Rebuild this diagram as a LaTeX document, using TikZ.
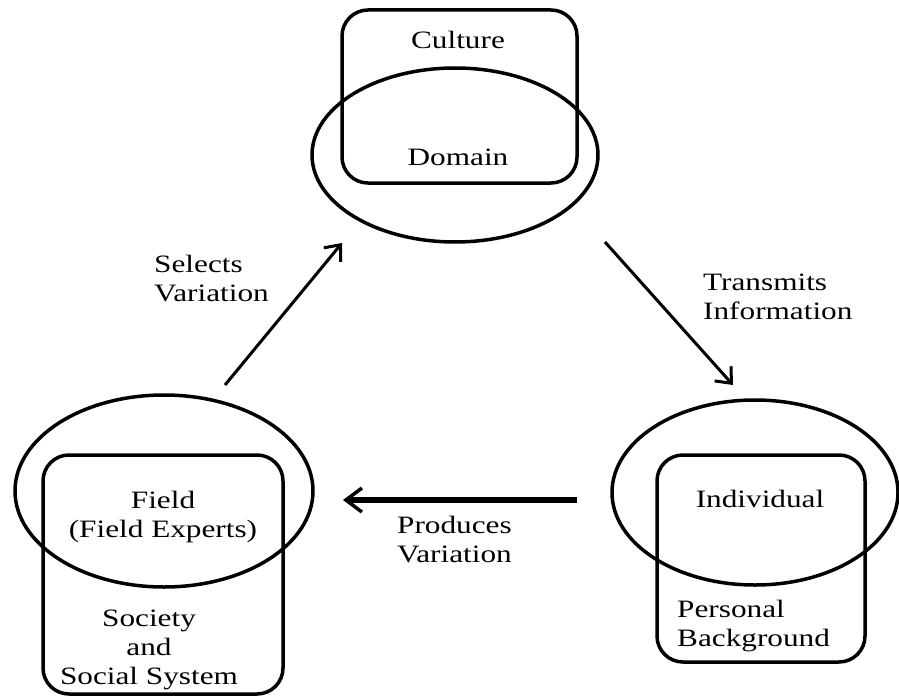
\documentclass[tikz,border=0pt]{standalone}
\usepackage{fontspec}
\setmainfont[FakeStretch=1.25]{Liberation Serif}
\usepackage{tikz}
\usetikzlibrary{shapes.geometric, arrows.meta}

\begin{document}
\begin{tikzpicture}[
    x=1pt, y=-1pt,
    font=\fontsize{25}{29}\selectfont,
    ring/.style={ellipse, draw, line width=3.5pt, inner sep=0pt},
    frame/.style={rectangle, draw, line width=3.5pt, rounded corners=26pt, inner sep=0pt},
    label/.style={inner sep=0pt, align=center},
    leftlabel/.style={inner sep=0pt, align=left, anchor=west},
    flow/.style={line width=3pt, -{Straight Barb[length=13pt, width=22pt, line width=3pt]}},
    bigflow/.style={line width=6.5pt, -{Straight Barb[length=16pt, width=24pt, line width=3.5pt]}}
]

    \useasboundingbox (0,0) rectangle (899,698);

    % --- 1. Domain (top) ---
    \node[frame, minimum width=235pt, minimum height=173pt] (culture) at (459.5,96.5) {};
    \node[ring, minimum width=286pt, minimum height=174pt] (domain) at (455,155) {};
    \node[label] (culture_txt) at (458,40) {Culture};
    \node[label] (domain_txt) at (458,157) {Domain};

    % --- 2. Field (left) ---
    \node[frame, minimum width=240pt, minimum height=239pt] (society) at (163,574.5) {};
    \node[ring, minimum width=298pt, minimum height=192pt] (field) at (164,491) {};
    \node[label] (field_txt) at (163,517) {Field\\(Field Experts)};
    \node[label] (society_txt) at (149,650) {Society\\and\\Social System};

    % --- 3. Individual (right) ---
    \node[frame, minimum width=208pt, minimum height=207pt] (background) at (761,558.5) {};
    \node[ring, minimum width=286pt, minimum height=185pt] (individual) at (755,492.5) {};
    \node[label] (individual_txt) at (760,499) {Individual};
    \node[leftlabel] (background_txt) at (677,626) {Personal\\Background};

    % --- 4. Connections ---
    \coordinate (sel_tail) at (225,385);
    \coordinate (sel_head) at (342,243);
    \coordinate (tra_tail) at (605,242);
    \coordinate (tra_head) at (733,385);
    \coordinate (pro_tail) at (577,500);
    \coordinate (pro_head) at (343,500);

    \draw[flow] (sel_tail) -- (sel_head);
    \draw[flow] (tra_tail) -- (tra_head);
    \draw[bigflow] (pro_tail) -- (pro_head);

    \node[leftlabel] (selects_txt) at (154,279) {Selects\\Variation};
    \node[leftlabel] (transmits_txt) at (703,297) {Transmits\\Information};
    \node[leftlabel] (produces_txt) at (397,540) {Produces\\Variation};

\end{tikzpicture}
\end{document}
